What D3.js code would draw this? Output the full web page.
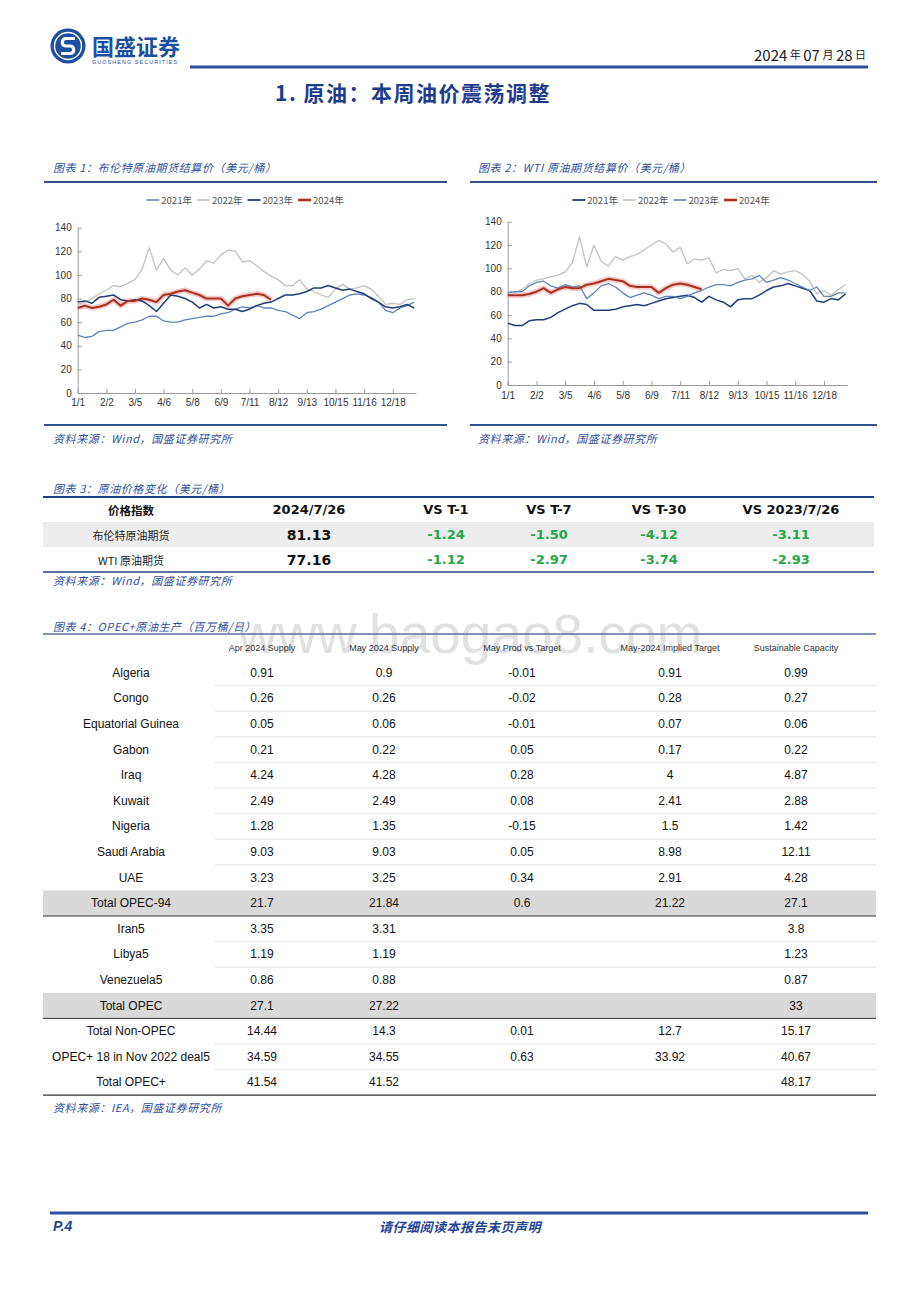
<!DOCTYPE html>
<html>
<head>
<meta charset="utf-8">
<script src="https://cdn.jsdelivr.net/npm/d3@7"></script>
<style>
  body { margin: 0; background: #fff; }
  svg text { font-family: "Noto Sans CJK SC", "Noto Sans", sans-serif; }
</style>
</head>
<body>
<div id="page"></div>
<script>
// ---------------------------//
//       DATA                 //
// ---------------------------//

// one point every 8 days from 1/1
const dayStep = 8;
const xTickLabels = ["1/1", "2/2", "3/5", "4/6", "5/8", "6/9", "7/11", "8/12", "9/13", "10/15", "11/16", "12/18"];
const xTickDays = [0, 32, 64, 96, 128, 160, 192, 224, 256, 288, 320, 352];
const yTicks = [0, 20, 40, 60, 80, 100, 120, 140];
const yearNames = ["2021年", "2022年", "2023年", "2024年"];

// Brent settlement (USD/bbl)
const brent2021 = [49, 47, 48, 52, 53, 53, 56, 59, 60, 62, 65, 65, 61, 60, 60, 62, 63, 64, 65, 65, 67, 68, 71, 73,
                   72, 74, 72, 72, 70, 69, 66, 63, 68, 69, 71, 74, 77, 80, 83, 84, 83, 81, 77, 70, 68, 72, 74, 77];
const brent2022 = [75, 77, 80, 84, 87, 91, 90, 93, 96, 105, 123, 104, 114, 104, 100, 106, 100, 105, 112, 110, 117, 121, 120, 111,
                   112, 108, 103, 99, 96, 91, 91, 96, 88, 86, 83, 81, 88, 92, 88, 89, 91, 88, 82, 75, 76, 75, 79, 80];
const brent2023 = [77, 78, 76, 81, 82, 83, 79, 78, 79, 78, 74, 69, 76, 83, 82, 80, 77, 72, 75, 72, 73, 71, 71, 69,
                   71, 74, 76, 77, 80, 83, 83, 84, 86, 89, 89, 91, 89, 87, 88, 86, 84, 80, 77, 73, 72, 73, 75, 72];
const brent2024 = [72, 74, 72, 73, 75, 79, 74, 78, 78, 80, 79, 77, 83, 84, 86, 87, 85, 83, 80, 80, 80, 74, 80, 82,
                   83, 84, 83, 79];

// WTI settlement (USD/bbl)
const wti2021 = [53, 51, 51, 55, 56, 56, 58, 62, 65, 68, 70, 69, 64, 64, 64, 65, 67, 68, 69, 68, 70, 72, 74, 75,
                 76, 77, 75, 71, 76, 73, 71, 67, 73, 74, 74, 77, 81, 84, 85, 87, 85, 83, 81, 72, 71, 74, 73, 78];
const wti2022 = [80, 79, 82, 87, 90, 91, 93, 94, 97, 105, 127, 101, 120, 106, 102, 110, 107, 110, 112, 116, 120, 124, 121, 114,
                 118, 104, 108, 107, 109, 96, 99, 98, 100, 91, 94, 88, 92, 98, 95, 97, 98, 95, 89, 78, 81, 77, 82, 86];
const wti2023 = [79, 80, 80, 85, 88, 89, 85, 83, 86, 84, 85, 74, 79, 85, 87, 84, 79, 75, 77, 79, 77, 74, 76, 76,
                 74, 76, 79, 81, 84, 86, 86, 85, 88, 90, 91, 94, 88, 90, 92, 90, 87, 84, 81, 84, 76, 76, 79, 79];
const wti2024 = [77, 77, 77, 78, 80, 83, 79, 82, 84, 83, 83, 86, 87, 89, 91, 90, 89, 85, 84, 84, 84, 79, 83, 86,
                 87, 86, 84, 82];

// price change table
const priceHeaders = ["价格指数", "2024/7/26", "VS T-1", "VS T-7", "VS T-30", "VS 2023/7/26"];
const priceNames = ["布伦特原油期货", "WTI 原油期货"];
const priceLatest = ["81.13", "77.16"];
const chgT1 = ["-1.24", "-1.12"];
const chgT7 = ["-1.50", "-2.97"];
const chgT30 = ["-4.12", "-3.74"];
const chgYoY = ["-3.11", "-2.93"];

// OPEC+ production table (mb/d)
const opecHeaders = ["", "Apr 2024 Supply", "May 2024 Supply", "May Prod vs Target", "May-2024 Implied Target", "Sustainable Capacity"];
const opecNames = ["Algeria", "Congo", "Equatorial Guinea", "Gabon", "Iraq", "Kuwait", "Nigeria", "Saudi Arabia", "UAE",
                   "Total OPEC-94", "Iran5", "Libya5", "Venezuela5", "Total OPEC", "Total Non-OPEC", "OPEC+ 18 in Nov 2022 deal5", "Total OPEC+"];
const aprSupply = ["0.91", "0.26", "0.05", "0.21", "4.24", "2.49", "1.28", "9.03", "3.23", "21.7", "3.35", "1.19", "0.86", "27.1", "14.44", "34.59", "41.54"];
const maySupply = ["0.9", "0.26", "0.06", "0.22", "4.28", "2.49", "1.35", "9.03", "3.25", "21.84", "3.31", "1.19", "0.88", "27.22", "14.3", "34.55", "41.52"];
const prodVsTarget = ["-0.01", "-0.02", "-0.01", "0.05", "0.28", "0.08", "-0.15", "0.05", "0.34", "0.6", "", "", "", "", "0.01", "0.63", ""];
const impliedTarget = ["0.91", "0.28", "0.07", "0.17", "4", "2.41", "1.5", "8.98", "2.91", "21.22", "", "", "", "", "12.7", "33.92", ""];
const capacity = ["0.99", "0.27", "0.06", "0.22", "4.87", "2.88", "1.42", "12.11", "4.28", "27.1", "3.8", "1.23", "0.87", "33", "15.17", "40.67", "48.17"];
const totalRows = ["Total OPEC-94", "Total OPEC"];

// ---------------------------//
//       PAGE                 //
// ---------------------------//

const capBlue = "#2f4f9b";
const numFont = "'Liberation Sans', Arial, sans-serif";
const svg = d3.select("#page").append("svg")
    .attr("width", 920)
    .attr("height", 1302);

// logo
const logo = svg.append("g").attr("transform", "translate(68,46)");
logo.append("circle").attr("r", 17.5).attr("fill", "#1d4fa0");
logo.append("circle").attr("r", 13.5).attr("fill", "none").attr("stroke", "#fff").attr("stroke-width", 1.4);
logo.append("path")
    .attr("d", "M7,-7.5 H-2.5 A3.8,3.8 0 0 0 -2.5,0 H2.5 A3.8,3.8 0 0 1 2.5,7.5 H-7")
    .attr("fill", "none").attr("stroke", "#fff").attr("stroke-width", 3.2);
svg.append("text").attr("x", 92).attr("y", 45).attr("dominant-baseline", "central")
    .style("font-size", "22px").style("font-weight", 700).attr("fill", "#1d4fa0").text("国盛证券");
svg.append("text").attr("x", 92).attr("y", 62).attr("dominant-baseline", "central")
    .style("font-size", "5.4px").style("letter-spacing", "1.1px").attr("fill", "#1d4fa0")
    .style("font-family", numFont).text("GUOSHENG SECURITIES");

// date
const dateText = svg.append("text").attr("x", 866).attr("y", 54).attr("text-anchor", "end")
    .attr("dominant-baseline", "central").attr("fill", "#222");
[["2024", 15], [" 年 ", 11], ["07", 15], [" 月 ", 11], ["28", 15], [" 日", 11]].forEach(p => {
  dateText.append("tspan").style("font-size", p[1] + "px").text(p[0]);
});

// header rule
svg.append("line").attr("x1", 190).attr("x2", 868).attr("y1", 67).attr("y2", 67)
    .attr("stroke", "#2d4f9c").attr("stroke-width", 3);

// section title
svg.append("text").attr("x", 275).attr("y", 92).attr("dominant-baseline", "central")
    .style("font-size", "21px").style("font-weight", 700).style("letter-spacing", "1.5px")
    .attr("fill", "#1c3c8c").text("1. 原油：本周油价震荡调整");

function caption(x, y, txt) {
  svg.append("text").attr("x", x).attr("y", y).attr("dominant-baseline", "central")
      .style("font-size", "11px").style("font-style", "italic").style("letter-spacing", "0.6px")
      .attr("fill", capBlue).text(txt);
}
function rule(x1, x2, y, color, w) {
  svg.append("line").attr("x1", x1).attr("x2", x2).attr("y1", y).attr("y2", y)
      .attr("stroke", color).attr("stroke-width", w);
}

// ---------------------------//
//       LINE CHARTS          //
// ---------------------------//

function drawChart(box, series) {
  const x = d3.scaleLinear().domain([0, 378]).range([box.x0, box.x1]);
  const y = d3.scaleLinear().domain([0, 140]).range([box.yBottom, box.yTop]);
  const g = svg.append("g");

  const yAxis = g.append("g")
      .attr("transform", `translate(${box.x0},0)`)
      .call(d3.axisLeft(y).tickValues(yTicks).tickSizeInner(-4).tickSizeOuter(0).tickPadding(6));
  const xAxis = g.append("g")
      .attr("transform", `translate(0,${box.yBottom})`)
      .call(d3.axisBottom(x).tickValues(xTickDays).tickFormat((d, i) => xTickLabels[i])
        .tickSizeInner(-4).tickSizeOuter(0).tickPadding(box.tickPad));
  [yAxis, xAxis].forEach(a => {
    a.selectAll("path, line").attr("stroke", "#9a9a9a");
    a.selectAll("text").attr("fill", "#333")
      .style("font-family", numFont).style("font-size", "10px");
  });

  const line = d3.line().x((d, i) => x(i * dayStep)).y(d => y(d));
  series.forEach(s => {
    if (s.glow) {
      g.append("path").datum(s.values).attr("d", line).attr("fill", "none")
        .attr("stroke", "#f6baba").attr("stroke-width", 5.5).attr("stroke-opacity", 0.75)
        .attr("stroke-linejoin", "round");
    }
  });
  series.forEach(s => {
    g.append("path").datum(s.values).attr("d", line).attr("fill", "none")
      .attr("stroke", s.color).attr("stroke-width", s.width).attr("stroke-linejoin", "round");
  });

  // legend
  const leg = g.append("g");
  let cx = 0;
  series.forEach(s => {
    leg.append("line").attr("x1", cx).attr("x2", cx + 13).attr("y1", 0).attr("y2", 0)
      .attr("stroke", s.color).attr("stroke-width", s.glow ? 2.6 : Math.max(1.4, s.width + 0.3));
    const t = leg.append("text").attr("x", cx + 15).attr("y", 0).attr("dominant-baseline", "central")
      .style("font-size", "9.5px").attr("fill", "#555").text(s.name);
    cx += 15 + t.node().getComputedTextLength() + 5;
  });
  leg.attr("transform", `translate(${box.legendCx - (cx - 5) / 2},${box.legendY})`);
}

// chart 1: Brent
caption(53, 167, "图表 1：布伦特原油期货结算价（美元/桶）");
rule(44, 447, 182, "#34508f", 2);
drawChart({x0: 77.7, x1: 416, yTop: 227.7, yBottom: 393, legendCx: 245, legendY: 200, tickPad: 6}, [
  {name: yearNames[0], values: brent2021, color: "#5f84bf", width: 1.3},
  {name: yearNames[1], values: brent2022, color: "#c2c2c2", width: 1.3},
  {name: yearNames[2], values: brent2023, color: "#203e78", width: 1.5},
  {name: yearNames[3], values: brent2024, color: "#a8301c", width: 2, glow: true}
]);
rule(44, 447, 425, "#34508f", 2);
caption(53, 438, "资料来源：Wind，国盛证券研究所");

// chart 2: WTI
caption(478, 167, "图表 2：WTI 原油期货结算价（美元/桶）");
rule(470, 877, 182, "#34508f", 2);
drawChart({x0: 507.7, x1: 847.3, yTop: 221.7, yBottom: 385, legendCx: 671, legendY: 200, tickPad: 7}, [
  {name: yearNames[0], values: wti2021, color: "#203e78", width: 1.5},
  {name: yearNames[1], values: wti2022, color: "#c2c2c2", width: 1.3},
  {name: yearNames[2], values: wti2023, color: "#5f84bf", width: 1.3},
  {name: yearNames[3], values: wti2024, color: "#a8301c", width: 2, glow: true}
]);
rule(470, 877, 425, "#34508f", 2);
caption(478, 438, "资料来源：Wind，国盛证券研究所");

// ---------------------------//
//       PRICE TABLE          //
// ---------------------------//

caption(53, 488, "图表 3：原油价格变化（美元/桶）");
const pCols = d3.scaleOrdinal().domain(d3.range(6)).range([131, 309, 446, 549, 659, 791]);
const pRows = d3.scaleBand().domain(d3.range(3)).range([497, 572]);
svg.append("rect").attr("x", 43).attr("width", 831).attr("y", pRows(1)).attr("height", pRows.bandwidth())
    .attr("fill", "#ededed");
priceHeaders.forEach((h, i) => {
  svg.append("text").attr("x", pCols(i)).attr("y", pRows(0) + pRows.bandwidth() / 2)
    .attr("text-anchor", "middle").attr("dominant-baseline", "central")
    .style("font-size", i === 0 ? "11.5px" : "13px").style("font-weight", 700)
    .style("font-family", i === 0 ? null : "'DejaVu Sans', sans-serif")
    .attr("fill", "#111").text(h);
});
priceNames.forEach((n, r) => {
  const cy = pRows(r + 1) + pRows.bandwidth() / 2;
  const cells = [n, priceLatest[r], chgT1[r], chgT7[r], chgT30[r], chgYoY[r]];
  cells.forEach((v, i) => {
    svg.append("text").attr("x", pCols(i)).attr("y", cy)
      .attr("text-anchor", "middle").attr("dominant-baseline", "central")
      .style("font-size", i === 0 ? "11px" : (i === 1 ? "14px" : "13px"))
      .style("font-weight", i === 0 ? 400 : 700)
      .style("font-family", i === 0 ? null : "'DejaVu Sans', sans-serif")
      .attr("fill", i === 0 ? "#222" : (i === 1 ? "#111" : "#22a64a")).text(v);
  });
});
rule(43, 874, 497, "#1f3f8a", 2);
rule(43, 874, 572, "#1f3f8a", 1.6);
caption(53, 580, "资料来源：Wind，国盛证券研究所");

// ---------------------------//
//       OPEC+ TABLE          //
// ---------------------------//

caption(53, 626, "图表 4：OPEC+原油生产（百万桶/日）");
const oCols = d3.scaleOrdinal().domain(d3.range(6)).range([131, 262, 384, 522, 670, 796]);
const oRows = d3.scaleBand().domain(d3.range(opecNames.length)).range([660, 660 + 25.6 * opecNames.length]);

// watermark (sits behind the table text)
svg.append("text").attr("x", 470).attr("y", 634).attr("text-anchor", "middle").attr("dominant-baseline", "central")
    .style("font-size", "55px").style("font-family", numFont).attr("fill", "#bdbdbd").attr("fill-opacity", 0.45)
    .text("www.baogao8.com");

// header
opecHeaders.forEach((h, i) => {
  svg.append("text").attr("x", oCols(i)).attr("y", 648)
    .attr("text-anchor", "middle").attr("dominant-baseline", "central")
    .style("font-size", "9px").style("font-family", numFont).attr("fill", "#333").text(h);
});

opecNames.forEach((n, r) => {
  const top = oRows(r);
  const isTotal = totalRows.includes(n);
  if (isTotal) {
    svg.append("rect").attr("x", 43).attr("width", 833).attr("y", top).attr("height", oRows.bandwidth())
      .attr("fill", "#d9d9d9");
  } else if (r < opecNames.length - 1 && !totalRows.includes(opecNames[r + 1])) {
    rule(215, 876, top + oRows.bandwidth(), "#ececec", 1.5);
  }
  const cy = top + oRows.bandwidth() / 2;
  [n, aprSupply[r], maySupply[r], prodVsTarget[r], impliedTarget[r], capacity[r]].forEach((v, i) => {
    svg.append("text").attr("x", oCols(i)).attr("y", cy)
      .attr("text-anchor", "middle").attr("dominant-baseline", "central")
      .style("font-size", "12px").style("font-family", numFont).attr("fill", "#111").text(v);
  });
  if (isTotal) rule(43, 876, top + oRows.bandwidth(), "#333", 1);
});
rule(43, 876, 634, "#5a6f9a", 1.6);
rule(43, 876, 660 + 25.6 * opecNames.length, "#333", 1.2);
caption(53, 1107, "资料来源：IEA，国盛证券研究所");

// ---------------------------//
//       FOOTER               //
// ---------------------------//

rule(50, 868, 1213, "#2d4f9c", 3);
svg.append("text").attr("x", 53).attr("y", 1226).attr("dominant-baseline", "central")
    .style("font-size", "14px").style("font-weight", 700).style("font-style", "italic")
    .style("font-family", numFont).attr("fill", "#1f4394").text("P.4");
svg.append("text").attr("x", 460).attr("y", 1226).attr("text-anchor", "middle").attr("dominant-baseline", "central")
    .style("font-size", "13px").style("font-weight", 700).style("font-style", "italic").style("letter-spacing", "0.5px")
    .attr("fill", "#1f4394").text("请仔细阅读本报告末页声明");
</script>
</body>
</html>
